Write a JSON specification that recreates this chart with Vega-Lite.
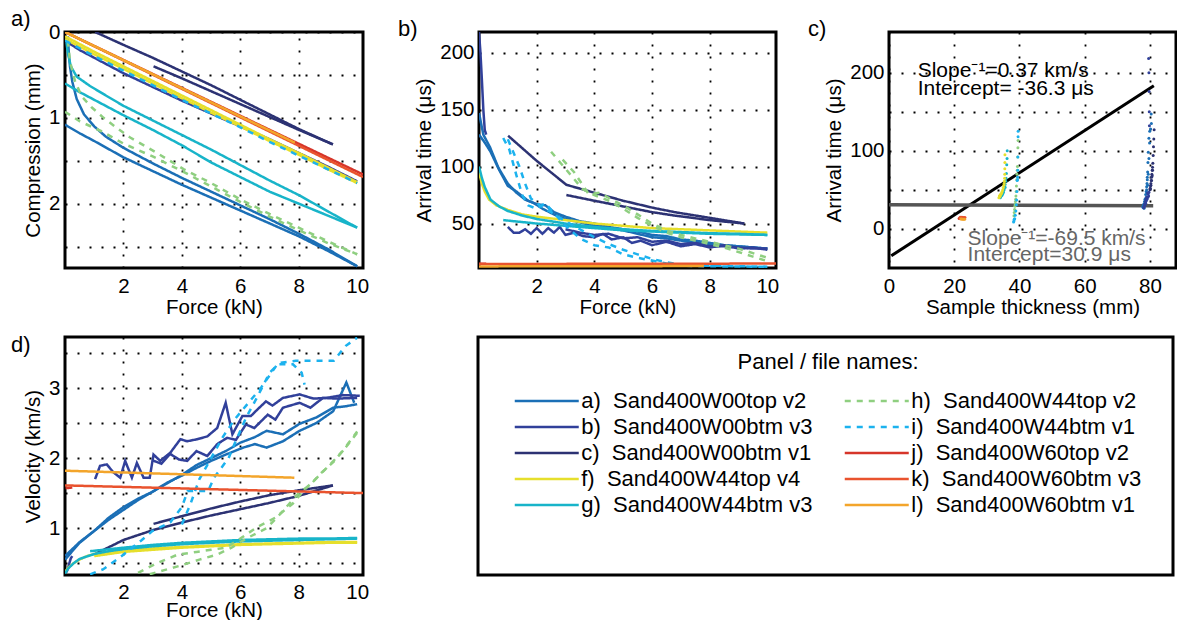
{
 "$schema": "https://vega.github.io/schema/vega-lite/v6.json",
 "padding": {"left": 9, "top": 6, "right": 0, "bottom": 0},
 "background": "white",
 "spacing": 12,
 "resolve": {"scale": {"x": "independent", "y": "independent"}},
 "datasets": {
  "A": [
   {"s":"a","c":1,"x":0.1,"y":0.05},{"s":"a","c":1,"x":0.13,"y":0.25},{"s":"a","c":1,"x":0.17,"y":0.4},{"s":"a","c":1,"x":0.25,"y":0.58},{"s":"a","c":1,"x":0.4,"y":0.78},{"s":"a","c":1,"x":0.65,"y":0.96},{"s":"a","c":1,"x":1.0,"y":1.1},{"s":"a","c":1,"x":1.4,"y":1.22},{"s":"a","c":1,"x":2.0,"y":1.35},{"s":"a","c":1,"x":3.0,"y":1.53},{"s":"a","c":1,"x":4.0,"y":1.7},{"s":"a","c":1,"x":5.0,"y":1.86},{"s":"a","c":1,"x":6.0,"y":2.02},{"s":"a","c":1,"x":7.0,"y":2.18},{"s":"a","c":1,"x":8.0,"y":2.35},{"s":"a","c":1,"x":9.0,"y":2.53},{"s":"a","c":1,"x":10.0,"y":2.73},
   {"s":"a","c":2,"x":0,"y":1.08},{"s":"a","c":2,"x":0.5,"y":1.18},{"s":"a","c":2,"x":1,"y":1.27},{"s":"a","c":2,"x":2,"y":1.46},{"s":"a","c":2,"x":3,"y":1.62},{"s":"a","c":2,"x":4,"y":1.78},{"s":"a","c":2,"x":5,"y":1.93},{"s":"a","c":2,"x":6,"y":2.08},{"s":"a","c":2,"x":7,"y":2.23},{"s":"a","c":2,"x":8,"y":2.38},{"s":"a","c":2,"x":9,"y":2.55},{"s":"a","c":2,"x":10,"y":2.73},
   {"s":"b","c":1,"x":0,"y":0.1},{"s":"b","c":1,"x":0.5,"y":0.21},{"s":"b","c":1,"x":1,"y":0.3},{"s":"b","c":1,"x":2,"y":0.48},{"s":"b","c":1,"x":3,"y":0.64},{"s":"b","c":1,"x":4,"y":0.8},{"s":"b","c":1,"x":5,"y":0.95},{"s":"b","c":1,"x":6,"y":1.1},{"s":"b","c":1,"x":7,"y":1.25},{"s":"b","c":1,"x":8,"y":1.41},{"s":"b","c":1,"x":9,"y":1.57},{"s":"b","c":1,"x":10,"y":1.74},
   {"s":"c","c":1,"x":1.03,"y":0},{"s":"c","c":1,"x":2,"y":0.15},{"s":"c","c":1,"x":3,"y":0.3},{"s":"c","c":1,"x":4,"y":0.46},{"s":"c","c":1,"x":5,"y":0.62},{"s":"c","c":1,"x":6,"y":0.79},{"s":"c","c":1,"x":7,"y":0.96},{"s":"c","c":1,"x":8,"y":1.13},{"s":"c","c":1,"x":9.17,"y":1.31},
   {"s":"c","c":2,"x":3.03,"y":0.4},{"s":"c","c":2,"x":4,"y":0.54},{"s":"c","c":2,"x":5,"y":0.69},{"s":"c","c":2,"x":6,"y":0.84},{"s":"c","c":2,"x":7,"y":0.99},{"s":"c","c":2,"x":8,"y":1.14},{"s":"c","c":2,"x":9.17,"y":1.31},
   {"s":"f","c":1,"x":0,"y":0.05},{"s":"f","c":1,"x":0.5,"y":0.14},{"s":"f","c":1,"x":1,"y":0.23},{"s":"f","c":1,"x":2,"y":0.4},{"s":"f","c":1,"x":3,"y":0.57},{"s":"f","c":1,"x":4,"y":0.74},{"s":"f","c":1,"x":5,"y":0.91},{"s":"f","c":1,"x":6,"y":1.08},{"s":"f","c":1,"x":7,"y":1.25},{"s":"f","c":1,"x":8,"y":1.41},{"s":"f","c":1,"x":9,"y":1.58},{"s":"f","c":1,"x":10,"y":1.75},
   {"s":"f","c":2,"x":0,"y":0.08},{"s":"f","c":2,"x":0.5,"y":0.17},{"s":"f","c":2,"x":1,"y":0.26},{"s":"f","c":2,"x":2,"y":0.43},{"s":"f","c":2,"x":3,"y":0.6},{"s":"f","c":2,"x":4,"y":0.77},{"s":"f","c":2,"x":5,"y":0.94},{"s":"f","c":2,"x":6,"y":1.1},{"s":"f","c":2,"x":7,"y":1.27},{"s":"f","c":2,"x":8,"y":1.43},{"s":"f","c":2,"x":9,"y":1.6},{"s":"f","c":2,"x":10,"y":1.76},
   {"s":"g","c":1,"x":0.05,"y":0.12},{"s":"g","c":1,"x":0.1,"y":0.25},{"s":"g","c":1,"x":0.2,"y":0.4},{"s":"g","c":1,"x":0.4,"y":0.52},{"s":"g","c":1,"x":0.86,"y":0.63},{"s":"g","c":1,"x":1.4,"y":0.74},{"s":"g","c":1,"x":2.0,"y":0.86},{"s":"g","c":1,"x":3.0,"y":1.03},{"s":"g","c":1,"x":4.0,"y":1.2},{"s":"g","c":1,"x":5.0,"y":1.37},{"s":"g","c":1,"x":6.0,"y":1.55},{"s":"g","c":1,"x":7.0,"y":1.73},{"s":"g","c":1,"x":8.0,"y":1.9},{"s":"g","c":1,"x":9.0,"y":2.09},{"s":"g","c":1,"x":10.0,"y":2.28},
   {"s":"g","c":2,"x":0,"y":0.6},{"s":"g","c":2,"x":0.5,"y":0.7},{"s":"g","c":2,"x":1,"y":0.79},{"s":"g","c":2,"x":2,"y":0.97},{"s":"g","c":2,"x":3,"y":1.14},{"s":"g","c":2,"x":4,"y":1.32},{"s":"g","c":2,"x":5,"y":1.52},{"s":"g","c":2,"x":6,"y":1.69},{"s":"g","c":2,"x":7,"y":1.86},{"s":"g","c":2,"x":8,"y":2.0},{"s":"g","c":2,"x":9,"y":2.14},{"s":"g","c":2,"x":10,"y":2.28},
   {"s":"h","c":1,"x":0.1,"y":0.1},{"s":"h","c":1,"x":0.17,"y":0.34},{"s":"h","c":1,"x":0.34,"y":0.57},{"s":"h","c":1,"x":0.57,"y":0.75},{"s":"h","c":1,"x":0.92,"y":0.88},{"s":"h","c":1,"x":1.32,"y":1.0},{"s":"h","c":1,"x":1.78,"y":1.12},{"s":"h","c":1,"x":2.23,"y":1.23},{"s":"h","c":1,"x":3.15,"y":1.41},{"s":"h","c":1,"x":4.07,"y":1.6},{"s":"h","c":1,"x":5,"y":1.76},{"s":"h","c":1,"x":6,"y":1.95},{"s":"h","c":1,"x":7,"y":2.12},{"s":"h","c":1,"x":8,"y":2.28},{"s":"h","c":1,"x":9,"y":2.44},{"s":"h","c":1,"x":10,"y":2.59},
   {"s":"h","c":2,"x":0,"y":0.93},{"s":"h","c":2,"x":0.5,"y":1.04},{"s":"h","c":2,"x":1.27,"y":1.16},{"s":"h","c":2,"x":2,"y":1.3},{"s":"h","c":2,"x":3,"y":1.45},{"s":"h","c":2,"x":4,"y":1.62},{"s":"h","c":2,"x":5,"y":1.8},{"s":"h","c":2,"x":6,"y":1.98},{"s":"h","c":2,"x":7,"y":2.15},{"s":"h","c":2,"x":8,"y":2.31},{"s":"h","c":2,"x":9,"y":2.46},{"s":"h","c":2,"x":10,"y":2.59},
   {"s":"i","c":1,"x":0,"y":0.1},{"s":"i","c":1,"x":1,"y":0.28},{"s":"i","c":1,"x":2,"y":0.45},{"s":"i","c":1,"x":3,"y":0.62},{"s":"i","c":1,"x":4,"y":0.79},{"s":"i","c":1,"x":5,"y":0.95},{"s":"i","c":1,"x":6,"y":1.11},{"s":"i","c":1,"x":7,"y":1.28},{"s":"i","c":1,"x":8,"y":1.44},{"s":"i","c":1,"x":9,"y":1.6},{"s":"i","c":1,"x":10,"y":1.76},
   {"s":"j","c":1,"x":0,"y":0},{"s":"j","c":1,"x":10.2,"y":1.66},
   {"s":"k","c":1,"x":0,"y":0},{"s":"k","c":1,"x":10.2,"y":1.69},
   {"s":"l","c":1,"x":0,"y":0},{"s":"l","c":1,"x":7.87,"y":1.29}
  ],
  "B": [
   {"s":"a","c":1,"x":0,"y":147},{"s":"a","c":1,"x":0.15,"y":128},{"s":"a","c":1,"x":0.38,"y":117},{"s":"a","c":1,"x":0.67,"y":99},{"s":"a","c":1,"x":1.0,"y":85},{"s":"a","c":1,"x":1.3,"y":77},{"s":"a","c":1,"x":1.6,"y":71},{"s":"a","c":1,"x":1.9,"y":68},{"s":"a","c":1,"x":2.2,"y":63},{"s":"a","c":1,"x":2.6,"y":58},{"s":"a","c":1,"x":3.0,"y":54},{"s":"a","c":1,"x":3.5,"y":51},{"s":"a","c":1,"x":4.0,"y":48},{"s":"a","c":1,"x":4.5,"y":46},{"s":"a","c":1,"x":5,"y":44},{"s":"a","c":1,"x":5.5,"y":41},{"s":"a","c":1,"x":6,"y":38},{"s":"a","c":1,"x":6.5,"y":37},{"s":"a","c":1,"x":7,"y":35},{"s":"a","c":1,"x":7.5,"y":33},{"s":"a","c":1,"x":8,"y":32},{"s":"a","c":1,"x":8.5,"y":31},{"s":"a","c":1,"x":9,"y":30},{"s":"a","c":1,"x":9.5,"y":29},{"s":"a","c":1,"x":10,"y":28},
   {"s":"a","c":2,"x":0,"y":128},{"s":"a","c":2,"x":0.2,"y":121},{"s":"a","c":2,"x":0.4,"y":113},{"s":"a","c":2,"x":0.7,"y":97},{"s":"a","c":2,"x":1.0,"y":83},{"s":"a","c":2,"x":1.3,"y":78},{"s":"a","c":2,"x":1.7,"y":70},{"s":"a","c":2,"x":2.0,"y":67},{"s":"a","c":2,"x":2.3,"y":66},{"s":"a","c":2,"x":2.6,"y":60},{"s":"a","c":2,"x":3.0,"y":56},{"s":"a","c":2,"x":3.5,"y":52},{"s":"a","c":2,"x":4,"y":50},{"s":"a","c":2,"x":4.5,"y":47},{"s":"a","c":2,"x":5,"y":45},{"s":"a","c":2,"x":5.5,"y":43},{"s":"a","c":2,"x":6,"y":40},{"s":"a","c":2,"x":6.5,"y":39},{"s":"a","c":2,"x":7,"y":36},{"s":"a","c":2,"x":7.5,"y":35},{"s":"a","c":2,"x":8,"y":33},{"s":"a","c":2,"x":8.5,"y":31},{"s":"a","c":2,"x":9,"y":30},{"s":"a","c":2,"x":9.5,"y":29},{"s":"a","c":2,"x":10,"y":28},
   {"s":"b","c":1,"x":1.0,"y":47},{"s":"b","c":1,"x":1.2,"y":42},{"s":"b","c":1,"x":1.4,"y":42},{"s":"b","c":1,"x":1.6,"y":45},{"s":"b","c":1,"x":1.8,"y":41},{"s":"b","c":1,"x":2.0,"y":46},{"s":"b","c":1,"x":2.2,"y":41},{"s":"b","c":1,"x":2.4,"y":46},{"s":"b","c":1,"x":2.6,"y":42},{"s":"b","c":1,"x":2.8,"y":47},{"s":"b","c":1,"x":3.0,"y":40},{"s":"b","c":1,"x":3.3,"y":42},{"s":"b","c":1,"x":3.6,"y":39},{"s":"b","c":1,"x":4.0,"y":38},{"s":"b","c":1,"x":4.3,"y":41},{"s":"b","c":1,"x":4.6,"y":36},{"s":"b","c":1,"x":5.0,"y":38},{"s":"b","c":1,"x":5.3,"y":33},{"s":"b","c":1,"x":5.6,"y":35},{"s":"b","c":1,"x":6.0,"y":31},{"s":"b","c":1,"x":6.5,"y":34},{"s":"b","c":1,"x":7.0,"y":30},{"s":"b","c":1,"x":7.5,"y":32},{"s":"b","c":1,"x":8,"y":29},{"s":"b","c":1,"x":8.5,"y":31},{"s":"b","c":1,"x":9,"y":28},{"s":"b","c":1,"x":9.5,"y":29},{"s":"b","c":1,"x":10,"y":27},
   {"s":"b","c":2,"x":3.0,"y":45},{"s":"b","c":2,"x":3.5,"y":42},{"s":"b","c":2,"x":4,"y":40},{"s":"b","c":2,"x":4.5,"y":41},{"s":"b","c":2,"x":5,"y":37},{"s":"b","c":2,"x":5.5,"y":38},{"s":"b","c":2,"x":6,"y":34},{"s":"b","c":2,"x":6.5,"y":35},{"s":"b","c":2,"x":7,"y":32},{"s":"b","c":2,"x":7.5,"y":33},{"s":"b","c":2,"x":8,"y":30},{"s":"b","c":2,"x":8.5,"y":30},{"s":"b","c":2,"x":9,"y":29},{"s":"b","c":2,"x":9.5,"y":28},{"s":"b","c":2,"x":10,"y":28},
   {"s":"b","c":3,"x":0,"y":218},{"s":"b","c":3,"x":0.05,"y":200},{"s":"b","c":3,"x":0.1,"y":176},{"s":"b","c":3,"x":0.15,"y":150},{"s":"b","c":3,"x":0.2,"y":132},{"s":"b","c":3,"x":0.25,"y":128},
   {"s":"c","c":1,"x":1.01,"y":127},{"s":"c","c":1,"x":2,"y":105},{"s":"c","c":1,"x":3.03,"y":84},{"s":"c","c":1,"x":4,"y":77},{"s":"c","c":1,"x":5,"y":70},{"s":"c","c":1,"x":6,"y":64},{"s":"c","c":1,"x":6.78,"y":60},{"s":"c","c":1,"x":8,"y":55},{"s":"c","c":1,"x":9.2,"y":50},
   {"s":"c","c":2,"x":3.03,"y":75},{"s":"c","c":2,"x":4,"y":70},{"s":"c","c":2,"x":5,"y":65},{"s":"c","c":2,"x":6,"y":60},{"s":"c","c":2,"x":6.78,"y":57},{"s":"c","c":2,"x":8,"y":53},{"s":"c","c":2,"x":9.2,"y":50},
   {"s":"f","c":1,"x":0,"y":95},{"s":"f","c":1,"x":0.1,"y":85},{"s":"f","c":1,"x":0.2,"y":78},{"s":"f","c":1,"x":0.35,"y":71},{"s":"f","c":1,"x":0.6,"y":66},{"s":"f","c":1,"x":1,"y":62},{"s":"f","c":1,"x":1.5,"y":58},{"s":"f","c":1,"x":2,"y":56},{"s":"f","c":1,"x":3,"y":53},{"s":"f","c":1,"x":4,"y":50},{"s":"f","c":1,"x":5,"y":48},{"s":"f","c":1,"x":6,"y":46},{"s":"f","c":1,"x":7,"y":45},{"s":"f","c":1,"x":8,"y":44},{"s":"f","c":1,"x":9,"y":43},{"s":"f","c":1,"x":10,"y":42},
   {"s":"g","c":1,"x":0,"y":100},{"s":"g","c":1,"x":0.1,"y":90},{"s":"g","c":1,"x":0.2,"y":82},{"s":"g","c":1,"x":0.4,"y":71},{"s":"g","c":1,"x":0.7,"y":65},{"s":"g","c":1,"x":1.0,"y":61},{"s":"g","c":1,"x":1.5,"y":57},{"s":"g","c":1,"x":2,"y":54},{"s":"g","c":1,"x":3,"y":50},{"s":"g","c":1,"x":4,"y":47},{"s":"g","c":1,"x":5,"y":45},{"s":"g","c":1,"x":6,"y":43.5},{"s":"g","c":1,"x":7,"y":42.5},{"s":"g","c":1,"x":8,"y":41.5},{"s":"g","c":1,"x":9,"y":41},{"s":"g","c":1,"x":10,"y":40},
   {"s":"g","c":2,"x":0.84,"y":53},{"s":"g","c":2,"x":2,"y":50},{"s":"g","c":2,"x":3,"y":48},{"s":"g","c":2,"x":4,"y":46},{"s":"g","c":2,"x":5,"y":44},{"s":"g","c":2,"x":6,"y":43},{"s":"g","c":2,"x":7,"y":42},{"s":"g","c":2,"x":8,"y":41},{"s":"g","c":2,"x":9,"y":40.5},{"s":"g","c":2,"x":10,"y":40},
   {"s":"h","c":1,"x":2.5,"y":113},{"s":"h","c":1,"x":2.8,"y":104},{"s":"h","c":1,"x":3.2,"y":92},{"s":"h","c":1,"x":3.6,"y":80},{"s":"h","c":1,"x":4.0,"y":75},{"s":"h","c":1,"x":4.5,"y":70},{"s":"h","c":1,"x":5.0,"y":63},{"s":"h","c":1,"x":5.5,"y":55},{"s":"h","c":1,"x":6.0,"y":48},{"s":"h","c":1,"x":6.5,"y":42},{"s":"h","c":1,"x":7.0,"y":38},{"s":"h","c":1,"x":7.5,"y":35},{"s":"h","c":1,"x":8.0,"y":32},{"s":"h","c":1,"x":8.5,"y":29},{"s":"h","c":1,"x":9.0,"y":25},{"s":"h","c":1,"x":9.5,"y":21},{"s":"h","c":1,"x":10.0,"y":17},
   {"s":"h","c":2,"x":2.9,"y":106},{"s":"h","c":2,"x":3.3,"y":95},{"s":"h","c":2,"x":3.8,"y":76},{"s":"h","c":2,"x":4.2,"y":77},{"s":"h","c":2,"x":4.6,"y":71},{"s":"h","c":2,"x":5,"y":66},{"s":"h","c":2,"x":5.5,"y":58},{"s":"h","c":2,"x":6,"y":50},{"s":"h","c":2,"x":6.5,"y":44},{"s":"h","c":2,"x":7,"y":40},{"s":"h","c":2,"x":7.5,"y":37},{"s":"h","c":2,"x":8,"y":34},{"s":"h","c":2,"x":8.5,"y":31},{"s":"h","c":2,"x":9,"y":28},{"s":"h","c":2,"x":9.5,"y":24},{"s":"h","c":2,"x":10,"y":20},
   {"s":"i","c":1,"x":0.84,"y":125},{"s":"i","c":1,"x":1.05,"y":115},{"s":"i","c":1,"x":1.3,"y":92},{"s":"i","c":1,"x":1.5,"y":75},{"s":"i","c":1,"x":1.7,"y":66},{"s":"i","c":1,"x":2.0,"y":63},{"s":"i","c":1,"x":2.3,"y":68},{"s":"i","c":1,"x":2.5,"y":62},{"s":"i","c":1,"x":3.0,"y":48},{"s":"i","c":1,"x":3.5,"y":37},{"s":"i","c":1,"x":4.0,"y":31},{"s":"i","c":1,"x":4.5,"y":29},{"s":"i","c":1,"x":5.0,"y":23},{"s":"i","c":1,"x":5.5,"y":20},{"s":"i","c":1,"x":6.0,"y":17.5},{"s":"i","c":1,"x":6.5,"y":15},{"s":"i","c":1,"x":7.0,"y":13},{"s":"i","c":1,"x":8,"y":12.5},{"s":"i","c":1,"x":9,"y":12.3},{"s":"i","c":1,"x":10,"y":12},
   {"s":"i","c":2,"x":1.0,"y":124},{"s":"i","c":2,"x":1.2,"y":112},{"s":"i","c":2,"x":1.4,"y":100},{"s":"i","c":2,"x":1.6,"y":85},{"s":"i","c":2,"x":1.8,"y":72},{"s":"i","c":2,"x":2.1,"y":66},{"s":"i","c":2,"x":2.5,"y":60},{"s":"i","c":2,"x":3.0,"y":52},{"s":"i","c":2,"x":3.5,"y":45},{"s":"i","c":2,"x":4,"y":38},{"s":"i","c":2,"x":4.5,"y":32},{"s":"i","c":2,"x":5,"y":27},{"s":"i","c":2,"x":5.5,"y":23},{"s":"i","c":2,"x":6,"y":19},{"s":"i","c":2,"x":6.5,"y":16},{"s":"i","c":2,"x":7,"y":14},{"s":"i","c":2,"x":8,"y":13},{"s":"i","c":2,"x":9,"y":12.5},{"s":"i","c":2,"x":10,"y":12.2},
   {"s":"j","c":1,"x":0,"y":14.8},{"s":"j","c":1,"x":0.25,"y":14.8},
   {"s":"k","c":1,"x":0,"y":14.5},{"s":"k","c":1,"x":10.3,"y":14.9},
   {"s":"l","c":1,"x":0,"y":12.4},{"s":"l","c":1,"x":7.8,"y":12.7}
  ],
  "C": [
   {"s":"a","x":80.45,"y":135},{"s":"a","x":79.95,"y":125},{"s":"a","x":79.7,"y":116},{"s":"a","x":79.5,"y":98},{"s":"a","x":79.4,"y":85},{"s":"a","x":79.3,"y":73},{"s":"a","x":79.2,"y":63},{"s":"a","x":79.0,"y":54},{"s":"a","x":78.85,"y":48},{"s":"a","x":78.7,"y":44},{"s":"a","x":78.5,"y":38},{"s":"a","x":78.35,"y":35},{"s":"a","x":78.15,"y":32},{"s":"a","x":77.95,"y":30},{"s":"a","x":77.8,"y":28},{"s":"a","x":78.0,"y":29},{"s":"a","x":78.3,"y":31},{"s":"a","x":78.6,"y":34},{"s":"a","x":78.9,"y":39},{"s":"a","x":79.1,"y":46},{"s":"a","x":79.3,"y":56},{"s":"a","x":79.5,"y":70},{"s":"a","x":79.7,"y":90},{"s":"a","x":79.9,"y":110},{"s":"a","x":80.2,"y":128},{"s":"a","x":80.4,"y":147},{"s":"a","x":78.1,"y":27},{"s":"a","x":78.2,"y":26.5},{"s":"a","x":78.4,"y":30},{"s":"a","x":78.7,"y":36},{"s":"a","x":78.8,"y":40},{"s":"a","x":79.0,"y":50},{"s":"a","x":79.1,"y":58},{"s":"a","x":79.2,"y":66},
   {"s":"b","x":79.6,"y":218},{"s":"b","x":79.7,"y":200},{"s":"b","x":79.75,"y":176},{"s":"b","x":79.8,"y":150},{"s":"b","x":79.85,"y":132},{"s":"b","x":79.7,"y":47},{"s":"b","x":79.6,"y":42},{"s":"b","x":79.5,"y":45},{"s":"b","x":79.4,"y":41},{"s":"b","x":79.3,"y":46},{"s":"b","x":79.2,"y":40},{"s":"b","x":79.1,"y":38},{"s":"b","x":79.0,"y":41},{"s":"b","x":78.9,"y":36},{"s":"b","x":78.8,"y":38},{"s":"b","x":78.7,"y":33},{"s":"b","x":78.6,"y":35},{"s":"b","x":78.5,"y":31},{"s":"b","x":78.4,"y":32},{"s":"b","x":78.3,"y":29},{"s":"b","x":78.2,"y":28},{"s":"b","x":78.1,"y":27},
   {"s":"c","x":81.3,"y":127},{"s":"c","x":81.2,"y":115},{"s":"c","x":81.1,"y":105},{"s":"c","x":81.0,"y":94},{"s":"c","x":80.9,"y":84},{"s":"c","x":80.8,"y":79},{"s":"c","x":80.7,"y":75},{"s":"c","x":80.6,"y":70},{"s":"c","x":80.5,"y":66},{"s":"c","x":80.4,"y":62},{"s":"c","x":80.3,"y":58},{"s":"c","x":80.2,"y":55},{"s":"c","x":80.1,"y":52},{"s":"c","x":80.0,"y":50},{"s":"c","x":80.1,"y":51},{"s":"c","x":80.3,"y":56},{"s":"c","x":80.5,"y":62},{"s":"c","x":80.7,"y":68},{"s":"c","x":80.8,"y":75},
   {"s":"g","x":36.25,"y":100},{"s":"g","x":36.2,"y":90},{"s":"g","x":36.1,"y":82},{"s":"g","x":36.0,"y":71},{"s":"g","x":35.9,"y":65},{"s":"g","x":35.8,"y":61},{"s":"g","x":35.6,"y":57},{"s":"g","x":35.5,"y":54},{"s":"g","x":35.3,"y":50},{"s":"g","x":35.1,"y":47},{"s":"g","x":34.9,"y":45},{"s":"g","x":34.7,"y":43.5},{"s":"g","x":34.5,"y":42.5},{"s":"g","x":34.3,"y":41.5},{"s":"g","x":34.2,"y":41},{"s":"g","x":34.1,"y":40},{"s":"g","x":35.6,"y":53},{"s":"g","x":35.0,"y":48},{"s":"g","x":34.8,"y":46},{"s":"g","x":34.6,"y":44},
   {"s":"f","x":35.55,"y":95},{"s":"f","x":35.53,"y":85},{"s":"f","x":35.51,"y":77},{"s":"f","x":35.49,"y":70},{"s":"f","x":35.45,"y":65},{"s":"f","x":35.38,"y":61},{"s":"f","x":35.3,"y":58},{"s":"f","x":35.22,"y":56},{"s":"f","x":35.05,"y":53},{"s":"f","x":34.88,"y":50},{"s":"f","x":34.71,"y":48},{"s":"f","x":34.55,"y":46},{"s":"f","x":34.38,"y":45},{"s":"f","x":34.21,"y":44},{"s":"f","x":34.04,"y":43},{"s":"f","x":33.85,"y":42},{"s":"f","x":33.7,"y":40},{"s":"f","x":33.9,"y":41},{"s":"f","x":34.1,"y":42},
   {"s":"h","x":39.57,"y":113},{"s":"h","x":39.52,"y":104},{"s":"h","x":39.46,"y":92},{"s":"h","x":39.39,"y":80},{"s":"h","x":39.32,"y":75},{"s":"h","x":39.24,"y":70},{"s":"h","x":39.16,"y":63},{"s":"h","x":39.08,"y":55},{"s":"h","x":39.0,"y":48},{"s":"h","x":38.92,"y":42},{"s":"h","x":38.84,"y":38},{"s":"h","x":38.76,"y":35},{"s":"h","x":38.68,"y":32},{"s":"h","x":38.59,"y":29},{"s":"h","x":38.5,"y":25},{"s":"h","x":38.4,"y":21},{"s":"h","x":38.31,"y":17},
   {"s":"i","x":39.6,"y":125},{"s":"i","x":39.57,"y":118},{"s":"i","x":39.52,"y":92},{"s":"i","x":39.48,"y":75},{"s":"i","x":39.45,"y":66},{"s":"i","x":39.4,"y":63},{"s":"i","x":39.3,"y":62},{"s":"i","x":39.22,"y":48},{"s":"i","x":39.13,"y":37},{"s":"i","x":39.05,"y":31},{"s":"i","x":38.9,"y":23},{"s":"i","x":38.72,"y":17.5},{"s":"i","x":38.55,"y":13},{"s":"i","x":38.4,"y":12.5},{"s":"i","x":38.3,"y":10},{"s":"i","x":38.2,"y":9},
   {"s":"j","x":21.5,"y":13.2},{"s":"j","x":21.8,"y":13.6},
   {"s":"k","x":23.3,"y":14.5},{"s":"k","x":23.0,"y":14.6},{"s":"k","x":22.7,"y":14.7},{"s":"k","x":22.4,"y":14.8},{"s":"k","x":22.1,"y":14.9},{"s":"k","x":21.8,"y":15.0},
   {"s":"l","x":23.2,"y":12.3},{"s":"l","x":22.9,"y":12.4},{"s":"l","x":22.6,"y":12.5},{"s":"l","x":22.3,"y":12.6},{"s":"l","x":22.0,"y":12.6}
  ],
  "D": [
   {"s":"a","c":1,"x":0,"y":0.55},{"s":"a","c":1,"x":0.5,"y":0.79},{"s":"a","c":1,"x":1,"y":0.96},{"s":"a","c":1,"x":1.5,"y":1.12},{"s":"a","c":1,"x":2,"y":1.26},{"s":"a","c":1,"x":2.5,"y":1.4},{"s":"a","c":1,"x":3,"y":1.52},{"s":"a","c":1,"x":3.5,"y":1.64},{"s":"a","c":1,"x":4,"y":1.76},{"s":"a","c":1,"x":4.5,"y":1.9},{"s":"a","c":1,"x":5,"y":2.0},{"s":"a","c":1,"x":5.5,"y":2.1},{"s":"a","c":1,"x":6,"y":2.22},{"s":"a","c":1,"x":6.5,"y":2.3},{"s":"a","c":1,"x":6.9,"y":2.39},{"s":"a","c":1,"x":7.46,"y":2.34},{"s":"a","c":1,"x":8.03,"y":2.49},{"s":"a","c":1,"x":8.6,"y":2.58},{"s":"a","c":1,"x":9.18,"y":2.72},{"s":"a","c":1,"x":9.6,"y":2.74},{"s":"a","c":1,"x":10,"y":2.77},
   {"s":"a","c":2,"x":0,"y":0.6},{"s":"a","c":2,"x":0.5,"y":0.8},{"s":"a","c":2,"x":1,"y":0.96},{"s":"a","c":2,"x":1.5,"y":1.15},{"s":"a","c":2,"x":2,"y":1.3},{"s":"a","c":2,"x":2.5,"y":1.42},{"s":"a","c":2,"x":3,"y":1.52},{"s":"a","c":2,"x":3.5,"y":1.65},{"s":"a","c":2,"x":4,"y":1.75},{"s":"a","c":2,"x":4.5,"y":1.86},{"s":"a","c":2,"x":5,"y":1.96},{"s":"a","c":2,"x":5.5,"y":2.05},{"s":"a","c":2,"x":6.1,"y":2.15},{"s":"a","c":2,"x":6.5,"y":2.2},{"s":"a","c":2,"x":6.9,"y":2.15},{"s":"a","c":2,"x":7.46,"y":2.24},{"s":"a","c":2,"x":8.03,"y":2.39},{"s":"a","c":2,"x":8.6,"y":2.5},{"s":"a","c":2,"x":9.18,"y":2.67},{"s":"a","c":2,"x":9.63,"y":3.08},{"s":"a","c":2,"x":9.9,"y":2.79},
   {"s":"b","c":1,"x":1.03,"y":1.7},{"s":"b","c":1,"x":1.2,"y":1.89},{"s":"b","c":1,"x":1.43,"y":1.91},{"s":"b","c":1,"x":1.65,"y":1.8},{"s":"b","c":1,"x":1.89,"y":1.72},{"s":"b","c":1,"x":2.06,"y":1.96},{"s":"b","c":1,"x":2.29,"y":1.72},{"s":"b","c":1,"x":2.46,"y":1.93},{"s":"b","c":1,"x":2.69,"y":1.72},{"s":"b","c":1,"x":2.9,"y":1.72},{"s":"b","c":1,"x":3.03,"y":2.05},{"s":"b","c":1,"x":3.26,"y":1.96},{"s":"b","c":1,"x":3.61,"y":2.08},{"s":"b","c":1,"x":3.95,"y":2.27},{"s":"b","c":1,"x":4.18,"y":2.24},{"s":"b","c":1,"x":4.53,"y":2.27},{"s":"b","c":1,"x":4.87,"y":2.31},{"s":"b","c":1,"x":5.21,"y":2.43},{"s":"b","c":1,"x":5.5,"y":2.79},{"s":"b","c":1,"x":5.73,"y":2.34},{"s":"b","c":1,"x":6.07,"y":2.6},{"s":"b","c":1,"x":6.36,"y":2.6},{"s":"b","c":1,"x":6.6,"y":2.7},{"s":"b","c":1,"x":6.88,"y":2.81},{"s":"b","c":1,"x":7.1,"y":2.75},{"s":"b","c":1,"x":7.46,"y":2.86},{"s":"b","c":1,"x":8.03,"y":2.91},{"s":"b","c":1,"x":8.5,"y":2.85},{"s":"b","c":1,"x":8.94,"y":2.86},{"s":"b","c":1,"x":9.52,"y":2.9},{"s":"b","c":1,"x":10.09,"y":2.89},
   {"s":"b","c":2,"x":2.98,"y":1.97},{"s":"b","c":2,"x":3.3,"y":1.92},{"s":"b","c":2,"x":3.6,"y":2.06},{"s":"b","c":2,"x":3.9,"y":1.98},{"s":"b","c":2,"x":4.18,"y":1.96},{"s":"b","c":2,"x":4.5,"y":2.1},{"s":"b","c":2,"x":4.87,"y":2.03},{"s":"b","c":2,"x":5.21,"y":2.2},{"s":"b","c":2,"x":5.55,"y":2.29},{"s":"b","c":2,"x":5.85,"y":2.26},{"s":"b","c":2,"x":6.19,"y":2.48},{"s":"b","c":2,"x":6.48,"y":2.43},{"s":"b","c":2,"x":6.94,"y":2.62},{"s":"b","c":2,"x":7.2,"y":2.55},{"s":"b","c":2,"x":7.46,"y":2.72},{"s":"b","c":2,"x":8.03,"y":2.79},{"s":"b","c":2,"x":8.4,"y":2.72},{"s":"b","c":2,"x":8.83,"y":2.86},{"s":"b","c":2,"x":9.3,"y":2.85},{"s":"b","c":2,"x":10.0,"y":2.86},
   {"s":"b","c":3,"x":0.05,"y":0.37},{"s":"b","c":3,"x":0.1,"y":0.42},{"s":"b","c":3,"x":0.15,"y":0.5},{"s":"b","c":3,"x":0.2,"y":0.57},{"s":"b","c":3,"x":0.25,"y":0.6},
   {"s":"c","c":1,"x":1.03,"y":0.63},{"s":"c","c":1,"x":2,"y":0.83},{"s":"c","c":1,"x":3,"y":0.97},{"s":"c","c":1,"x":4,"y":1.08},{"s":"c","c":1,"x":5,"y":1.18},{"s":"c","c":1,"x":6,"y":1.27},{"s":"c","c":1,"x":7,"y":1.36},{"s":"c","c":1,"x":8,"y":1.46},{"s":"c","c":1,"x":9.17,"y":1.61},
   {"s":"c","c":2,"x":3.03,"y":1.06},{"s":"c","c":2,"x":4,"y":1.17},{"s":"c","c":2,"x":5,"y":1.28},{"s":"c","c":2,"x":6,"y":1.38},{"s":"c","c":2,"x":7,"y":1.47},{"s":"c","c":2,"x":8,"y":1.54},{"s":"c","c":2,"x":9.17,"y":1.61},
   {"s":"f","c":1,"x":0,"y":0.37},{"s":"f","c":1,"x":0.1,"y":0.43},{"s":"f","c":1,"x":0.3,"y":0.5},{"s":"f","c":1,"x":0.5,"y":0.55},{"s":"f","c":1,"x":0.75,"y":0.6},{"s":"f","c":1,"x":1,"y":0.63},{"s":"f","c":1,"x":1.5,"y":0.66},{"s":"f","c":1,"x":2,"y":0.68},{"s":"f","c":1,"x":3,"y":0.71},{"s":"f","c":1,"x":4,"y":0.73},{"s":"f","c":1,"x":5,"y":0.75},{"s":"f","c":1,"x":6,"y":0.77},{"s":"f","c":1,"x":7,"y":0.78},{"s":"f","c":1,"x":8,"y":0.79},{"s":"f","c":1,"x":9,"y":0.8},{"s":"f","c":1,"x":10,"y":0.8},
   {"s":"f","c":2,"x":1,"y":0.6},{"s":"f","c":2,"x":2,"y":0.66},{"s":"f","c":2,"x":3,"y":0.69},{"s":"f","c":2,"x":4,"y":0.72},{"s":"f","c":2,"x":5,"y":0.74},{"s":"f","c":2,"x":6,"y":0.76},{"s":"f","c":2,"x":7,"y":0.77},{"s":"f","c":2,"x":8,"y":0.78},{"s":"f","c":2,"x":9,"y":0.79},{"s":"f","c":2,"x":10,"y":0.79},
   {"s":"g","c":1,"x":0,"y":0.35},{"s":"g","c":1,"x":0.1,"y":0.42},{"s":"g","c":1,"x":0.3,"y":0.5},{"s":"g","c":1,"x":0.5,"y":0.56},{"s":"g","c":1,"x":1,"y":0.63},{"s":"g","c":1,"x":1.5,"y":0.67},{"s":"g","c":1,"x":2,"y":0.7},{"s":"g","c":1,"x":3,"y":0.74},{"s":"g","c":1,"x":4,"y":0.77},{"s":"g","c":1,"x":5,"y":0.79},{"s":"g","c":1,"x":6,"y":0.81},{"s":"g","c":1,"x":7,"y":0.82},{"s":"g","c":1,"x":8,"y":0.83},{"s":"g","c":1,"x":9,"y":0.84},{"s":"g","c":1,"x":10,"y":0.85},
   {"s":"g","c":2,"x":0.86,"y":0.67},{"s":"g","c":2,"x":2,"y":0.72},{"s":"g","c":2,"x":3,"y":0.76},{"s":"g","c":2,"x":4,"y":0.79},{"s":"g","c":2,"x":5,"y":0.81},{"s":"g","c":2,"x":6,"y":0.83},{"s":"g","c":2,"x":7,"y":0.84},{"s":"g","c":2,"x":8,"y":0.85},{"s":"g","c":2,"x":9,"y":0.85},{"s":"g","c":2,"x":10,"y":0.86},
   {"s":"h","c":1,"x":2.5,"y":0.36},{"s":"h","c":1,"x":3.15,"y":0.5},{"s":"h","c":1,"x":3.85,"y":0.62},{"s":"h","c":1,"x":4.5,"y":0.66},{"s":"h","c":1,"x":5.0,"y":0.69},{"s":"h","c":1,"x":5.5,"y":0.72},{"s":"h","c":1,"x":6.0,"y":0.85},{"s":"h","c":1,"x":6.6,"y":1.02},{"s":"h","c":1,"x":7.2,"y":1.15},{"s":"h","c":1,"x":7.8,"y":1.35},{"s":"h","c":1,"x":8.2,"y":1.55},{"s":"h","c":1,"x":8.7,"y":1.75},{"s":"h","c":1,"x":9.1,"y":1.92},{"s":"h","c":1,"x":9.5,"y":2.1},{"s":"h","c":1,"x":10.0,"y":2.38},
   {"s":"h","c":2,"x":2.9,"y":0.34},{"s":"h","c":2,"x":3.4,"y":0.4},{"s":"h","c":2,"x":4.0,"y":0.47},{"s":"h","c":2,"x":4.6,"y":0.55},{"s":"h","c":2,"x":5.2,"y":0.62},{"s":"h","c":2,"x":5.7,"y":0.72},{"s":"h","c":2,"x":6.2,"y":0.85},{"s":"h","c":2,"x":6.9,"y":1.0},{"s":"h","c":2,"x":7.3,"y":1.17},{"s":"h","c":2,"x":8.0,"y":1.5},{"s":"h","c":2,"x":8.4,"y":1.62},{"s":"h","c":2,"x":8.8,"y":1.8},{"s":"h","c":2,"x":9.2,"y":1.95},{"s":"h","c":2,"x":9.6,"y":2.15},{"s":"h","c":2,"x":10.0,"y":2.36},
   {"s":"i","c":1,"x":0.86,"y":0.34},{"s":"i","c":1,"x":1.3,"y":0.41},{"s":"i","c":1,"x":2.0,"y":0.62},{"s":"i","c":1,"x":2.6,"y":0.82},{"s":"i","c":1,"x":3.0,"y":0.96},{"s":"i","c":1,"x":3.6,"y":1.08},{"s":"i","c":1,"x":4.0,"y":1.3},{"s":"i","c":1,"x":4.2,"y":1.53},{"s":"i","c":1,"x":4.9,"y":1.53},{"s":"i","c":1,"x":5.1,"y":1.72},{"s":"i","c":1,"x":5.6,"y":2.0},{"s":"i","c":1,"x":5.8,"y":2.2},{"s":"i","c":1,"x":6.2,"y":2.58},{"s":"i","c":1,"x":6.5,"y":2.81},{"s":"i","c":1,"x":6.8,"y":3.05},{"s":"i","c":1,"x":7.0,"y":3.22},{"s":"i","c":1,"x":7.3,"y":3.34},{"s":"i","c":1,"x":7.8,"y":3.34},{"s":"i","c":1,"x":8.1,"y":3.22},{"s":"i","c":1,"x":8.2,"y":3.05},
   {"s":"i","c":2,"x":4.0,"y":1.05},{"s":"i","c":2,"x":4.3,"y":1.35},{"s":"i","c":2,"x":4.6,"y":1.7},{"s":"i","c":2,"x":5.0,"y":2.0},{"s":"i","c":2,"x":5.4,"y":2.3},{"s":"i","c":2,"x":5.8,"y":2.55},{"s":"i","c":2,"x":6.2,"y":2.75},{"s":"i","c":2,"x":6.7,"y":3.0},{"s":"i","c":2,"x":7.3,"y":3.36},{"s":"i","c":2,"x":7.9,"y":3.39},{"s":"i","c":2,"x":8.7,"y":3.39},{"s":"i","c":2,"x":9.2,"y":3.39},{"s":"i","c":2,"x":9.6,"y":3.6},{"s":"i","c":2,"x":10.0,"y":3.72},
   {"s":"j","c":1,"x":0.02,"y":1.57},{"s":"j","c":1,"x":0.25,"y":1.58},
   {"s":"k","c":1,"x":0,"y":1.61},{"s":"k","c":1,"x":10.2,"y":1.5},
   {"s":"l","c":1,"x":0,"y":1.82},{"s":"l","c":1,"x":7.85,"y":1.72}
  ]
 },
 "vconcat": [
  {
   "hconcat": [
    {
     "width": 298, "height": 236,
     "title": {"text": "a)", "dx": -54, "offset": -9},
     "data": {"name": "A"},
     "mark": {"type": "line", "strokeWidth": 2.5, "clip": true},
     "encoding": {
      "x": {"field": "x", "type": "quantitative", "scale": {"domain": [0, 10.2], "nice": false, "zero": false}, "axis": {"title": "Force (kN)", "values": [2,4,6,8,10], "gridOpacity": {"condition": {"test": "datum.value >= 10", "value": 0}, "value": 1}}},
      "y": {"field": "y", "type": "quantitative", "scale": {"domain": [0, 2.75], "reverse": true, "nice": false, "zero": false}, "axis": {"title": "Compression (mm)", "values": [0,0.5,1,1.5,2,2.5], "labelExpr": "datum.value % 1 == 0 ? '' + datum.value : ''"}},
      "color": {"field": "s", "type": "nominal", "scale": {"domain": ["a","b","c","f","g","h","i","j","k","l"], "range": ["#1b6fb6","#31409a","#2c3273","#e6df2c","#18b4c9","#8fcf80","#1cb2ee","#d6352a","#e9532e","#f3a52b"]}, "legend": {"title": "Panel / file names:", "orient": "none", "legendX": 450, "legendY": 320, "columns": 2, "columnPadding": 26, "rowPadding": 4, "symbolType": "M-4,0H4", "symbolSize": 256, "symbolStrokeWidth": 2.5, "symbolOffset": 20.75, "labelOffset": 23.5, "labelFontSize": 22, "labelLimit": 400, "titleLimit": 500, "labelColor": "black", "titleColor": "black", "titleFontSize": 22, "titleFontWeight": "normal", "titleAnchor": "middle", "titlePadding": 16, "padding": 0, "labelExpr": "datum.label == 'a' ? 'a)\u00a0 Sand400W00top v2' : datum.label == 'b' ? 'b)\u00a0 Sand400W00btm v3' : datum.label == 'c' ? 'c)\u00a0 Sand400W00btm v1' : datum.label == 'f' ? '\u00a0f)\u00a0 Sand400W44top v4' : datum.label == 'g' ? 'g)\u00a0 Sand400W44btm v3' : datum.label == 'h' ? 'h)\u00a0 Sand400W44top v2' : datum.label == 'i' ? '\u00a0i)\u00a0 Sand400W44btm v1' : datum.label == 'j' ? '\u00a0j)\u00a0 Sand400W60top v2' : datum.label == 'k' ? 'k)\u00a0 Sand400W60btm v3' : '\u00a0l)\u00a0 Sand400W60btm v1'"}},
      "strokeDash": {"field": "s", "type": "nominal", "scale": {"domain": ["a","b","c","f","g","h","i","j","k","l"], "range": [[1,0],[1,0],[1,0],[1,0],[1,0],[6,6],[6,6],[1,0],[1,0],[1,0]]}, "legend": {"title": "Panel / file names:", "orient": "none", "legendX": 450, "legendY": 320, "columns": 2, "columnPadding": 26, "rowPadding": 4, "symbolType": "M-4,0H4", "symbolSize": 256, "symbolStrokeWidth": 2.5, "symbolOffset": 20.75, "labelOffset": 23.5, "labelFontSize": 22, "labelLimit": 400, "titleLimit": 500, "labelColor": "black", "titleColor": "black", "titleFontSize": 22, "titleFontWeight": "normal", "titleAnchor": "middle", "titlePadding": 16, "padding": 0, "labelExpr": "datum.label == 'a' ? 'a)\u00a0 Sand400W00top v2' : datum.label == 'b' ? 'b)\u00a0 Sand400W00btm v3' : datum.label == 'c' ? 'c)\u00a0 Sand400W00btm v1' : datum.label == 'f' ? '\u00a0f)\u00a0 Sand400W44top v4' : datum.label == 'g' ? 'g)\u00a0 Sand400W44btm v3' : datum.label == 'h' ? 'h)\u00a0 Sand400W44top v2' : datum.label == 'i' ? '\u00a0i)\u00a0 Sand400W44btm v1' : datum.label == 'j' ? '\u00a0j)\u00a0 Sand400W60top v2' : datum.label == 'k' ? 'k)\u00a0 Sand400W60btm v3' : '\u00a0l)\u00a0 Sand400W60btm v1'"}},
      "detail": {"field": "c"}
     }
    },
    {
     "width": 297, "height": 236,
     "title": {"text": "b)", "dx": -81, "offset": -9},
     "data": {"name": "B"},
     "mark": {"type": "line", "strokeWidth": 2.5, "clip": true},
     "encoding": {
      "x": {"field": "x", "type": "quantitative", "scale": {"domain": [0, 10.3], "nice": false, "zero": false}, "axis": {"title": "Force (kN)", "values": [2,4,6,8,10], "gridOpacity": {"condition": {"test": "datum.value >= 10", "value": 0}, "value": 1}}},
      "y": {"field": "y", "type": "quantitative", "scale": {"domain": [11, 218], "nice": false, "zero": false}, "axis": {"title": "Arrival time (μs)", "values": [50,100,150,200]}},
      "color": {"field": "s", "type": "nominal"},
      "strokeDash": {"field": "s", "type": "nominal"},
      "detail": {"field": "c"}
     }
    },
    {
     "width": 287, "height": 236,
     "title": {"text": "c)", "dx": -81, "offset": -9},
     "layer": [
      {
       "data": {"values": [{"x": 0.7, "y": -34.4}, {"x": 81.2, "y": 183.2}]},
       "mark": {"type": "line", "color": "black", "strokeWidth": 3, "clip": true},
       "encoding": {
        "x": {"field": "x", "type": "quantitative", "scale": {"domain": [0, 88], "nice": false, "zero": false}, "axis": {"title": "Sample thickness (mm)", "values": [0,20,40,60,80]}},
        "y": {"field": "y", "type": "quantitative", "scale": {"domain": [-50, 252], "nice": false, "zero": false}, "axis": {"title": "Arrival time (μs)", "values": [0,50,100,150,200], "labelExpr": "datum.value % 100 == 0 ? '' + datum.value : ''"}}
       }
      },
      {
       "data": {"values": [{"x": 0, "y": 30.9}, {"x": 81, "y": 29.7}]},
       "mark": {"type": "line", "color": "#555555", "strokeWidth": 3.5, "clip": true},
       "encoding": {
        "x": {"field": "x", "type": "quantitative"},
        "y": {"field": "y", "type": "quantitative"}
       }
      },
      {
       "data": {"name": "C"},
       "mark": {"type": "point", "filled": true, "size": 9, "opacity": 1, "clip": true},
       "encoding": {
        "x": {"field": "x", "type": "quantitative"},
        "y": {"field": "y", "type": "quantitative"},
        "fill": {"field": "s", "type": "nominal", "scale": {"domain": ["a","b","c","f","g","h","i","j","k","l"], "range": ["#1b6fb6","#31409a","#2c3273","#e6df2c","#18b4c9","#8fcf80","#1cb2ee","#d6352a","#e9532e","#f3a52b"]}, "legend": null}
       }
      },
      {
       "data": {"values": [{"t": "Slope⁻¹=0.37 km/s", "x": 8.8, "y": 194}, {"t": "Intercept= -36.3 μs", "x": 8.8, "y": 172}]},
       "mark": {"type": "text", "align": "left", "baseline": "alphabetic", "fontSize": 21, "color": "black"},
       "encoding": {
        "x": {"field": "x", "type": "quantitative"},
        "y": {"field": "y", "type": "quantitative"},
        "text": {"field": "t"}
       }
      },
      {
       "data": {"values": [{"t": "Slope⁻¹=-69.5 km/s", "x": 24.1, "y": -20.4}, {"t": "Intercept=30.9 μs", "x": 24.1, "y": -40.7}]},
       "mark": {"type": "text", "align": "left", "baseline": "alphabetic", "fontSize": 21, "color": "#666666"},
       "encoding": {
        "x": {"field": "x", "type": "quantitative"},
        "y": {"field": "y", "type": "quantitative"},
        "text": {"field": "t"}
       }
      }
     ]
    }
   ],
   "spacing": 25,
   "resolve": {"scale": {"x": "independent", "y": "independent"}}
  },
  {
   "hconcat": [
    {
     "width": 298, "height": 238,
     "title": {"text": "d)", "dx": -54, "offset": -20},
     "data": {"name": "D"},
     "mark": {"type": "line", "strokeWidth": 2.5, "clip": true},
     "encoding": {
      "x": {"field": "x", "type": "quantitative", "scale": {"domain": [0, 10.2], "nice": false, "zero": false}, "axis": {"title": "Force (kN)", "titlePadding": -2, "labelPadding": 7, "values": [2,4,6,8,10], "gridOpacity": {"condition": {"test": "datum.value >= 10", "value": 0}, "value": 1}}},
      "y": {"field": "y", "type": "quantitative", "scale": {"domain": [0.33, 3.73], "nice": false, "zero": false}, "axis": {"title": "Velocity (km/s)", "values": [0.5,1,1.5,2,2.5,3,3.5], "labelExpr": "datum.value % 1 == 0 ? '' + datum.value : ''"}},
      "color": {"field": "s", "type": "nominal"},
      "strokeDash": {"field": "s", "type": "nominal"},
      "detail": {"field": "c"}
     }
    },
    {
     "width": 695, "height": 238,
     "view": {"stroke": "black", "strokeWidth": 3},
     "data": {"values": [{"x": 0.5, "y": 0.5, "t": " "}]},
     "mark": {"type": "text", "opacity": 0},
     "encoding": {
      "x": {"field": "x", "type": "quantitative", "axis": null, "scale": {"domain": [0, 1]}},
      "y": {"field": "y", "type": "quantitative", "axis": null, "scale": {"domain": [0, 1]}},
      "text": {"field": "t"}
     }
    }
   ],
   "spacing": 105,
   "resolve": {"scale": {"x": "independent", "y": "independent"}}
  }
 ],
 "config": {
  "font": "Liberation Sans",
  "view": {"stroke": "black", "strokeWidth": 3},
  "axis": {"domain": false, "ticks": false, "grid": true, "gridColor": "black", "gridDash": [2, 10], "gridWidth": 1.8, "gridOpacity": 1, "labelFontSize": 20.5, "titleFontSize": 20.5, "labelColor": "black", "titleColor": "black", "titleFontWeight": "normal", "labelFlush": false, "labelOverlap": false},
  "axisX": {"labelPadding": 8, "titlePadding": 1},
  "axisY": {"labelPadding": 5, "titlePadding": 5},
  "title": {"fontSize": 22, "fontWeight": "normal", "color": "black", "baseline": "alphabetic", "anchor": "start", "frame": "group"},
  "legend": {"labelColor": "black", "titleColor": "black"}
 }
}
